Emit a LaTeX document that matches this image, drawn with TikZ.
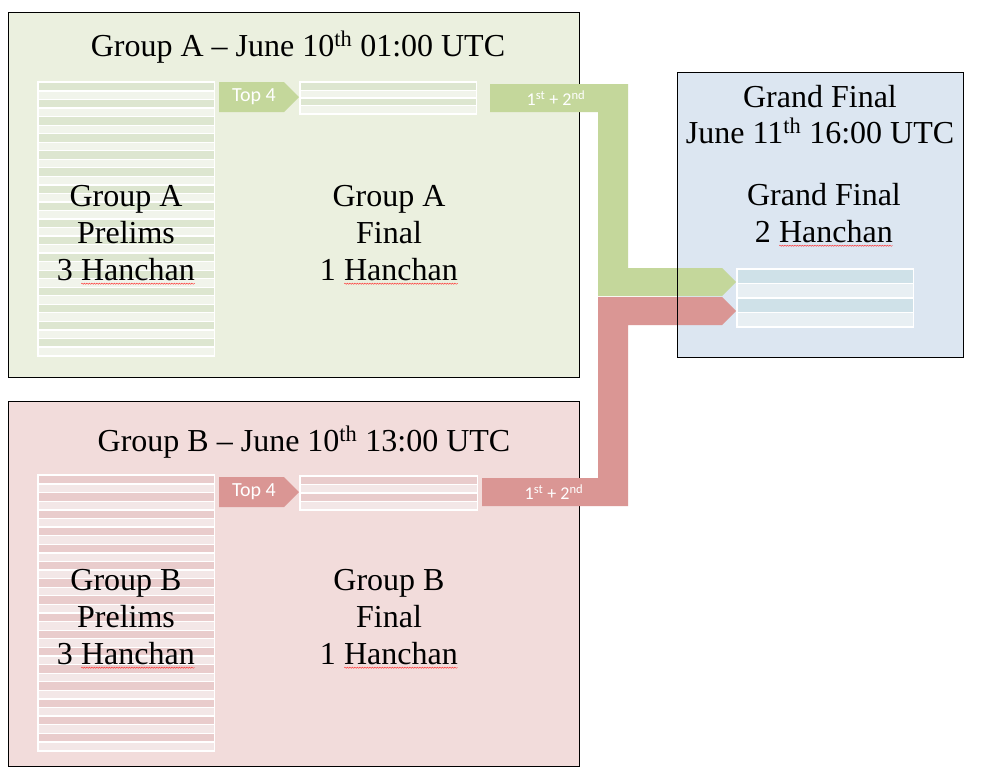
\documentclass[tikz,border=0pt]{standalone}
\usepackage{fontspec}
\setmainfont{Liberation Serif}
\newfontfamily\calib{Carlito}
\usetikzlibrary{decorations.pathmorphing}

\definecolor{gAbg}{HTML}{EBF0DF}
\definecolor{gAdark}{HTML}{DDE6D0}
\definecolor{gAlight}{HTML}{F1F4EB}
\definecolor{gBbg}{HTML}{F2DCDB}
\definecolor{gBdark}{HTML}{E9CCCC}
\definecolor{gBlight}{HTML}{F3E7E7}
\definecolor{gFbg}{HTML}{DCE6F1}
\definecolor{gFdark}{HTML}{CFE1E8}
\definecolor{gFlight}{HTML}{E8EFF3}
\definecolor{arrG}{HTML}{C4D79B}
\definecolor{arrR}{HTML}{DA9694}
\definecolor{spellred}{HTML}{FF3030}

\newcommand\stripetable[7]{%
  \fill[white] (#1,#2) rectangle (#3,#4);
  \pgfmathsetmacro\rowh{(#4-#2-3)/#5}
  \foreach \i in {1,...,#5} {
    \pgfmathsetmacro\ya{#2+1.5+(\i-1)*\rowh+0.65}
    \pgfmathsetmacro\yb{#2+1.5+\i*\rowh-0.65}
    \pgfmathtruncatemacro\odd{mod(\i,2)}
    \ifnum\odd=1
      \fill[#6] (#1+1.5,\ya) rectangle (#3-1.5,\yb);
    \else
      \fill[#7] (#1+1.5,\ya) rectangle (#3-1.5,\yb);
    \fi
  }
}

\newcommand\hanchan{\tikz[baseline=(hw.base)]{\node[inner sep=0pt,outer sep=0pt,anchor=base] (hw) {Hanchan};
  \draw[spellred,line width=0.4pt,decorate,decoration={snake,amplitude=0.6pt,segment length=2.5pt}]
    ([yshift=-3pt]hw.base west) -- ([yshift=-3pt]hw.base east);}}

\tikzset{
  groupbox/.style={draw=black,line width=1pt},
  bigtext/.style={font=\fontsize{32}{37}\selectfont,inner sep=0pt,align=center},
  arrowtext/.style={font=\calib\fontsize{20}{24}\selectfont,text=white,inner sep=0pt},
  smalltext/.style={font=\calib\fontsize{18}{21}\selectfont,text=white,inner sep=0pt},
}

\begin{document}
\begin{tikzpicture}[x=1pt,y=-1pt]
\useasboundingbox[fill=white] (0,0) rectangle (986,777);

% group boxes
\draw[groupbox,fill=gAbg] (8,12) rectangle (579,377);
\draw[groupbox,fill=gBbg] (8,401) rectangle (579,766);
\fill[gFbg] (677,72) rectangle (963,357);

% tables
\stripetable{37}{81}{215}{357}{32}{gAdark}{gAlight}
\stripetable{299}{81}{477}{115}{4}{gAdark}{gAlight}
\stripetable{37}{474}{215}{752}{32}{gBdark}{gBlight}
\stripetable{299}{475}{478}{511}{4}{gBdark}{gBlight}
\stripetable{736}{268}{914}{328}{4}{gFdark}{gFlight}

% titles
\node[bigtext,anchor=base] (titleA) at (298,56) {Group A -- June 10\textsuperscript{th} 01:00 UTC};
\node[bigtext,anchor=base] (titleB) at (304,451) {Group B -- June 10\textsuperscript{th} 13:00 UTC};
\node[bigtext,anchor=base] (titleF1) at (820,107) {Grand Final};
\node[bigtext,anchor=base] (titleF2) at (820,143) {June 11\textsuperscript{th} 16:00 UTC};

% body texts
\node[bigtext] (prelA) at (126,235) {Group A\\Prelims\\3 \hanchan};
\node[bigtext] (finA) at (389,235) {Group A\\Final\\1 \hanchan};
\node[bigtext] (prelB) at (126,619) {Group B\\Prelims\\3 \hanchan};
\node[bigtext] (finB) at (389,619) {Group B\\Final\\1 \hanchan};
\node[bigtext] (grand) at (824,215) {Grand Final\\2 \hanchan};

% Top 4 arrows
\fill[arrG] (219,82) -- (284,82) -- (299,97) -- (284,112) -- (219,112) -- cycle;
\node[arrowtext] (top4A) at (254,97) {Top 4};
\fill[arrR] (219,477) -- (284,477) -- (299,492) -- (284,507) -- (219,507) -- cycle;
\node[arrowtext] (top4B) at (254,492) {Top 4};

% qualification arrows
\fill[arrG] (490,84) -- (628,84) -- (628,268) -- (722,268) -- (736,282) -- (722,296)
  -- (598,296) -- (598,112) -- (490,112) -- cycle;
\node[smalltext] (qualA) at (556,98) {1\textsuperscript{st} + 2\textsuperscript{nd}};
\fill[arrR] (482,478) -- (482,506) -- (628,506) -- (628,325) -- (722,325) -- (736,311)
  -- (722,297) -- (598,297) -- (598,478) -- cycle;
\node[smalltext] (qualB) at (554,492) {1\textsuperscript{st} + 2\textsuperscript{nd}};

% grand final border on top
\draw[groupbox] (677,72) rectangle (963,357);
\end{tikzpicture}
\end{document}
